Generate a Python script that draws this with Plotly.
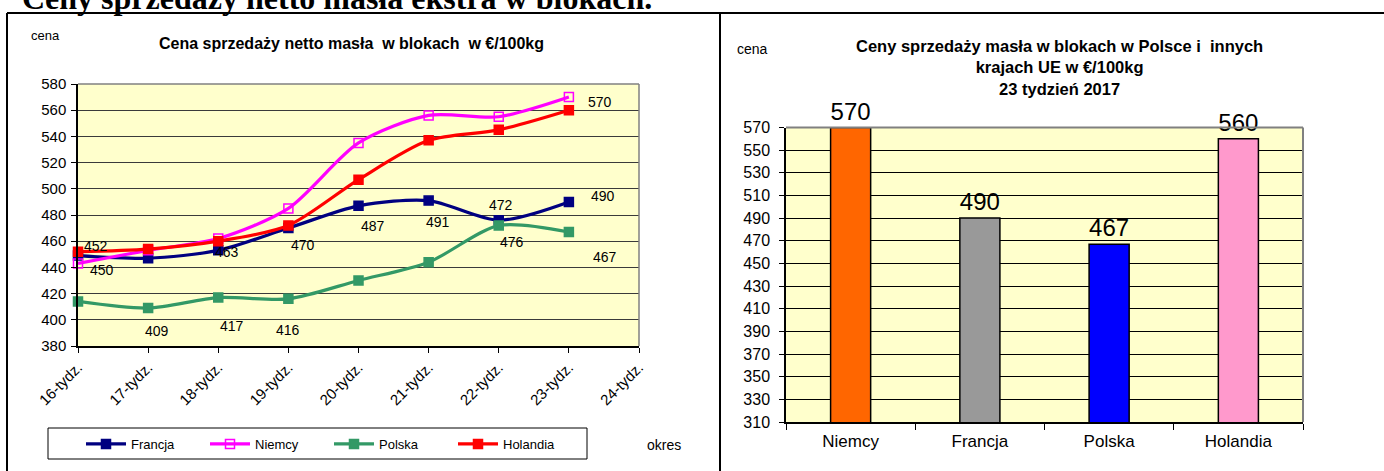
import plotly.graph_objects as go

# ---------------- data ----------------
weeks = ["16-tydz.", "17-tydz.", "18-tydz.", "19-tydz.", "20-tydz.",
         "21-tydz.", "22-tydz.", "23-tydz.", "24-tydz."]
weeks_with_data = weeks[:8]

francja = [449, 447, 453, 470, 487, 491, 476, 490]
niemcy = [443, 453, 462, 485, 535, 556, 555, 570]
polska = [414, 409, 417, 416, 430, 444, 472, 467]
holandia = [452, 454, 460, 472, 507, 537, 545, 560]

# data-label texts shown on the line chart (index -> text)
francja_labels = {0: "450", 2: "463", 3: "470", 4: "487", 5: "491", 6: "476", 7: "490"}
niemcy_labels = {7: "570"}
polska_labels = {1: "409", 2: "417", 3: "416", 6: "472", 7: "467"}
holandia_labels = {0: "452"}

bar_countries = ["Niemcy", "Francja", "Polska", "Holandia"]
bar_values = [570, 490, 467, 560]
bar_colors = ["#FF6600", "#999999", "#0000FF", "#FF99CC"]

left_y_ticks = list(range(380, 581, 20))
right_y_ticks = list(range(310, 571, 20))

W, H = 1384, 471
def px(x):
    return x / W
def py(y):
    return 1 - y / H

FONT = "Liberation Sans Narrow, Arial Narrow, Liberation Sans, Arial, sans-serif"
FONT_R = "Liberation Sans, Arial, sans-serif"

fig = go.Figure()

series = [
    ("Francja", francja, "#000080", "square", francja_labels),
    ("Niemcy", niemcy, "#FF00FF", "square-open", niemcy_labels),
    ("Polska", polska, "#339966", "square", polska_labels),
    ("Holandia", holandia, "#FF0000", "square", holandia_labels),
]
for name, vals, col, sym, _ in series:
    fig.add_trace(go.Scatter(
        x=weeks_with_data, y=vals, name=name, mode="lines+markers",
        line=dict(color=col, width=3.2, shape="spline", smoothing=0.8),
        marker=dict(symbol=sym, size=9, color=col, line=dict(color=col, width=1.5)),
        xaxis="x", yaxis="y", showlegend=True, cliponaxis=False))

# label offsets in pixels (style only)
offsets = {
    ("Francja", 0): (24, -14), ("Francja", 2): (9, -2), ("Francja", 3): (15, -17),
    ("Francja", 4): (14, -20), ("Francja", 5): (9, -21), ("Francja", 6): (13, -22),
    ("Francja", 7): (34, 6),
    ("Niemcy", 7): (31, -5),
    ("Polska", 1): (9, -23), ("Polska", 2): (14, -28), ("Polska", 3): (0, -31),
    ("Polska", 6): (2, 20), ("Polska", 7): (36, -25),
    ("Holandia", 0): (18, 6),
}
annotations = []
for name, vals, col, sym, labels in series:
    for i, txt in labels.items():
        dx, dy = offsets[(name, i)]
        annotations.append(dict(
            x=weeks_with_data[i], y=vals[i], xref="x", yref="y", text=txt,
            showarrow=False, xshift=dx, yshift=dy,
            font=dict(family=FONT_R, size=14, color="#000000")))

# bar chart
fig.add_trace(go.Bar(
    x=bar_countries, y=bar_values, marker=dict(color=bar_colors, line=dict(color="#000000", width=1.5)),
    width=0.31, text=[str(v) for v in bar_values], textposition="outside",
    textfont=dict(family=FONT_R, size=25, color="#000000"), cliponaxis=False,
    xaxis="x2", yaxis="y2", showlegend=False))

# text annotations
annotations += [
    dict(x=px(20), y=py(18.5), xref="paper", yref="paper", xanchor="left", yanchor="bottom",
         text="<b>Ceny sprzedaży netto masła ekstra w blokach.</b>", showarrow=False,
         font=dict(family="Liberation Serif, Times New Roman, serif", size=32, color="#000000")),
    dict(x=px(29), y=py(36), xref="paper", yref="paper", xanchor="left", yanchor="middle",
         text="cena", showarrow=False, font=dict(family=FONT_R, size=13, color="#000000")),
    dict(x=px(351), y=py(44), xref="paper", yref="paper", xanchor="center", yanchor="middle",
         text="<b>Cena sprzedaży netto masła  w blokach  w €/100kg</b>", showarrow=False,
         font=dict(family=FONT, size=16, color="#000000")),
    dict(x=px(645), y=py(445), xref="paper", yref="paper", xanchor="left", yanchor="middle",
         text="okres", showarrow=False, font=dict(family=FONT_R, size=14, color="#000000")),
    dict(x=px(735), y=py(49), xref="paper", yref="paper", xanchor="left", yanchor="middle",
         text="cena", showarrow=False, font=dict(family=FONT_R, size=14, color="#000000")),
    dict(x=px(1059), y=py(68), xref="paper", yref="paper", xanchor="center", yanchor="middle",
         text="<b>Ceny sprzedaży masła w blokach w Polsce i  innych<br>krajach UE w €/100kg<br>23 tydzień 2017</b>",
         showarrow=False, font=dict(family=FONT, size=16.5, color="#000000")),
]

shapes = [
    # page frame lines
    dict(type="line", xref="paper", yref="paper", x0=px(7), x1=1, y0=py(13), y1=py(13),
         line=dict(color="#000000", width=2)),
    dict(type="line", xref="paper", yref="paper", x0=px(7), x1=px(7), y0=py(13), y1=0,
         line=dict(color="#000000", width=2)),
    dict(type="line", xref="paper", yref="paper", x0=px(720), x1=px(720), y0=py(13), y1=0,
         line=dict(color="#000000", width=2)),
    # legend box
    dict(type="rect", xref="paper", yref="paper", x0=px(48), x1=px(587), y0=py(428), y1=py(459),
         line=dict(color="#000000", width=1)),
    # plot borders (top/right gray)
    dict(type="line", xref="x domain", yref="y domain", x0=0, x1=1, y0=1, y1=1,
         line=dict(color="#808080", width=1.5)),
    dict(type="line", xref="x domain", yref="y domain", x0=1, x1=1, y0=0, y1=1,
         line=dict(color="#808080", width=1.5)),
    dict(type="line", xref="x2 domain", yref="y2 domain", x0=0, x1=1, y0=1, y1=1,
         line=dict(color="#808080", width=2)),
    dict(type="line", xref="x2 domain", yref="y2 domain", x0=1, x1=1, y0=0, y1=1,
         line=dict(color="#808080", width=2)),
]

fig.update_layout(
    width=W, height=H, margin=dict(l=0, r=0, t=0, b=0, pad=0, autoexpand=False),
    paper_bgcolor="#FFFFFF", plot_bgcolor="#FFFFCC",
    font=dict(family=FONT, color="#000000"),
    xaxis=dict(domain=[px(78), px(639)], type="category", categoryorder="array",
               categoryarray=weeks, range=[0, 8], tickmode="array", tickvals=weeks, ticktext=weeks,
               tickangle=-45, ticks="outside", ticklen=5, tickcolor="#000000", automargin=False,
               showline=True, linecolor="#000000", linewidth=1.5, showgrid=False, zeroline=False,
               tickfont=dict(family=FONT, size=15, color="#000000"), anchor="y"),
    yaxis=dict(domain=[py(346), py(84)], range=[380, 580], tickmode="array", tickvals=left_y_ticks,
               ticks="outside", ticklen=5, tickcolor="#000000", showline=True, linecolor="#000000",
               linewidth=1.5, showgrid=True, gridcolor="#3a3a3a", gridwidth=1, zeroline=False,
               automargin=False, ticklabelstandoff=2,
               tickfont=dict(family=FONT, size=15, color="#000000"), anchor="x"),
    xaxis2=dict(domain=[px(786), px(1303)], type="category", range=[-0.5, 3.5], tickson="boundaries",
                ticks="outside", ticklen=6, tickcolor="#000000", showline=True, linecolor="#000000",
                linewidth=1.5, showgrid=False, zeroline=False, automargin=False, ticklabelstandoff=3,
                tickfont=dict(family=FONT, size=17, color="#000000"), anchor="y2"),
    yaxis2=dict(domain=[py(422), py(127.5)], range=[310, 570], tickmode="array", tickvals=right_y_ticks,
                ticks="outside", ticklen=5, tickcolor="#000000", showline=True, linecolor="#000000",
                linewidth=1.5, showgrid=True, gridcolor="#000000", gridwidth=1, zeroline=False,
                automargin=False, ticklabelstandoff=6,
                tickfont=dict(family=FONT, size=16, color="#000000"), anchor="x2"),
    legend=dict(orientation="h", x=px(81), y=py(429), xanchor="left", yanchor="top",
                bgcolor="rgba(0,0,0,0)", borderwidth=0, entrywidth=69, entrywidthmode="pixels",
                font=dict(family=FONT, size=13, color="#000000"), itemwidth=40),
    annotations=annotations, shapes=shapes, bargap=0.69,
)

fig.write_html("out.html", config={"displayModeBar": False},
               post_script="document.body.style.margin='0';document.body.style.padding='0';")
